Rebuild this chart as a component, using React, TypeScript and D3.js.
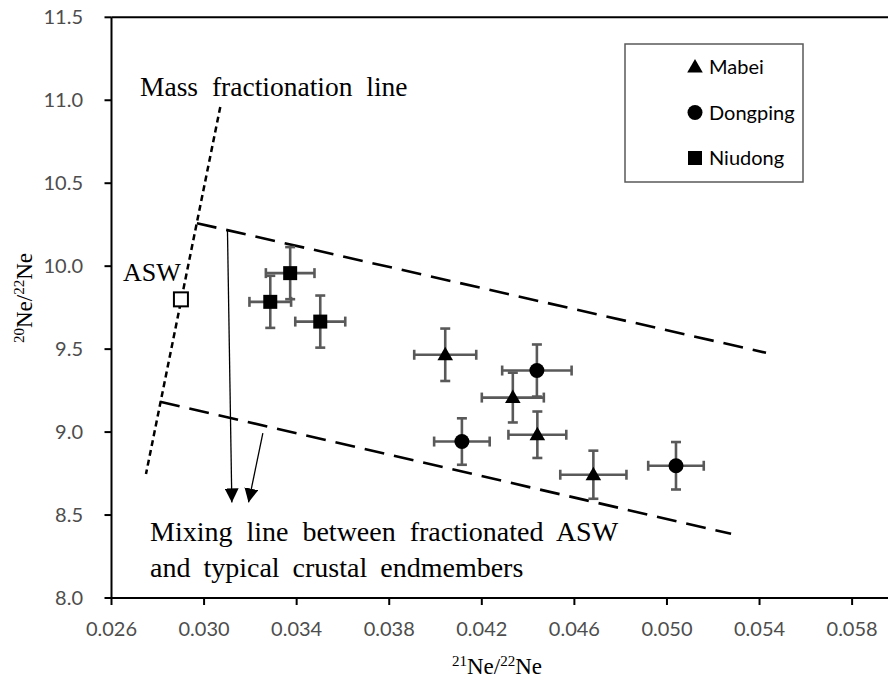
import React from 'react';
import * as d3 from 'd3';

// chart values
const xTicks = [0.026, 0.030, 0.034, 0.038, 0.042, 0.046, 0.050, 0.054, 0.058];
const yTicks = [8.0, 8.5, 9.0, 9.5, 10.0, 10.5, 11.0, 11.5];

const mabeiX = [0.04042, 0.04334, 0.0444, 0.04682];
const mabeiY = [9.466, 9.208, 8.984, 8.743];
const mabeiXErr = [0.00134, 0.00134, 0.00125, 0.00143];
const mabeiYErr = [0.158, 0.15, 0.14, 0.145];

const dongpingX = [0.04438, 0.04114, 0.05039];
const dongpingY = [9.371, 8.943, 8.797];
const dongpingXErr = [0.0015, 0.0012, 0.0012];
const dongpingYErr = [0.157, 0.14, 0.143];

const niudongX = [0.03286, 0.03372, 0.03502];
const niudongY = [9.785, 9.958, 9.666];
const niudongXErr = [0.0009, 0.00105, 0.00108];
const niudongYErr = [0.157, 0.157, 0.157];

const asw = [0.029, 9.8];

// reference lines [x1, y1, x2, y2]
const massFracLine = [0.0307, 10.96, 0.02749, 8.747];
const upperMixLine = [0.02969, 10.259, 0.05428, 9.478];
const lowerMixLine = [0.0281, 9.183, 0.05277, 8.387];
const arrows = [
  [0.03101, 10.219, 0.0312, 8.576],
  [0.03254, 8.994, 0.03192, 8.576],
];

const legendItems = ['Mabei', 'Dongping', 'Niudong'];

const width = 888, height = 684;
const x = d3.scaleLinear().domain([0.026, 0.060]).range([111.5, 898.4]);
const y = d3.scaleLinear().domain([8, 11.5]).range([598, 17.3]);

const tickFont = 'Lato, "Open Sans", sans-serif';
const serif = '"Liberation Serif", "Times New Roman", serif';
const errColor = '#595959';

function marker(shape: string, cx: number, cy: number, key?: any) {
  if (shape === 'triangle') {
    const tri = d3.symbol().type(d3.symbolTriangle).size(105)();
    return <path key={key} d={tri} transform={`translate(${cx},${cy + 1})`} fill="#000" />;
  }
  if (shape === 'circle') return <circle key={key} cx={cx} cy={cy} r={7.5} fill="#000" />;
  return <rect key={key} x={cx - 7} y={cy - 7} width={14} height={14} fill="#000" />;
}

function Series({ xs, ys, xe, ye, shape }: any) {
  return (
    <g>
      {xs.map((v: number, i: number) => {
        const cx = x(v), cy = y(ys[i]);
        const x0 = x(v - xe[i]), x1 = x(v + xe[i]);
        const y0 = y(ys[i] + ye[i]), y1 = y(ys[i] - ye[i]);
        return (
          <g key={i} stroke={errColor} strokeWidth={2.6}>
            <line x1={x0} x2={x1} y1={cy} y2={cy} />
            <line x1={x0} x2={x0} y1={cy - 5} y2={cy + 5} />
            <line x1={x1} x2={x1} y1={cy - 5} y2={cy + 5} />
            <line x1={cx} x2={cx} y1={y0} y2={y1} />
            <line x1={cx - 5} x2={cx + 5} y1={y0} y2={y0} />
            <line x1={cx - 5} x2={cx + 5} y1={y1} y2={y1} />
          </g>
        );
      })}
      {xs.map((v: number, i: number) => marker(shape, x(v), y(ys[i]), 'm' + i))}
    </g>
  );
}

function RefLine({ l, dash, w }: any) {
  return <line x1={x(l[0])} y1={y(l[1])} x2={x(l[2])} y2={y(l[3])}
    stroke="#000" strokeWidth={w} strokeDasharray={dash} />;
}

export default function App() {
  const shapes = ['triangle', 'circle', 'square'];
  return (
    <svg width={width} height={height} style={{ position: 'absolute', left: 0, top: 0, background: '#fff' }}>
      <defs>
        <marker id="ah" viewBox="0 0 10 10" refX="10" refY="5" markerWidth="14" markerHeight="14"
          markerUnits="userSpaceOnUse" orient="auto">
          <path d="M0,0 L10,5 L0,10 z" fill="#000" />
        </marker>
      </defs>

      {/* axes */}
      <line x1={x(0.026)} x2={width} y1={y(8)} y2={y(8)} stroke="#000" strokeWidth={2} />
      <line x1={x(0.026)} x2={width} y1={y(11.5)} y2={y(11.5)} stroke="#000" strokeWidth={2} />
      <line x1={x(0.026)} x2={x(0.026)} y1={y(11.5)} y2={y(8)} stroke="#000" strokeWidth={2} />
      {yTicks.map(t => (
        <g key={t}>
          <line x1={x(0.026) - 7} x2={x(0.026)} y1={y(t)} y2={y(t)} stroke="#000" strokeWidth={2} />
          <text x={83} y={y(t)} dy="0.35em" textAnchor="end" fontFamily={tickFont} fontSize={20} fill="#4d4d4d">
            {d3.format('.1f')(t)}
          </text>
        </g>
      ))}
      {xTicks.map(t => (
        <g key={t}>
          <line x1={x(t)} x2={x(t)} y1={y(8)} y2={y(8) + 7} stroke="#000" strokeWidth={2} />
          <text x={x(t)} y={y(8) + 38} textAnchor="middle" fontFamily={tickFont} fontSize={20} fill="#4d4d4d">
            {d3.format('.3f')(t)}
          </text>
        </g>
      ))}

      {/* axis titles */}
      <text x={452} y={674} fontFamily={serif} fontSize={23} fill="#000">
        <tspan fontSize={15} dy={-8}>21</tspan><tspan dy={8}>Ne/</tspan>
        <tspan fontSize={15} dy={-8}>22</tspan><tspan dy={8}>Ne</tspan>
      </text>
      <text transform="translate(32,298) rotate(-90)" textAnchor="middle" fontFamily={serif} fontSize={23} fill="#000">
        <tspan fontSize={15} dy={-8}>20</tspan><tspan dy={8}>Ne/</tspan>
        <tspan fontSize={15} dy={-8}>22</tspan><tspan dy={8}>Ne</tspan>
      </text>

      {/* reference lines */}
      <RefLine l={massFracLine} dash="6,4" w={2.5} />
      <RefLine l={upperMixLine} dash="20,10" w={2.6} />
      <RefLine l={lowerMixLine} dash="20,10" w={2.6} />
      {arrows.map((a, i) => (
        <line key={i} x1={x(a[0])} y1={y(a[1])} x2={x(a[2])} y2={y(a[3])}
          stroke="#000" strokeWidth={1.3} markerEnd="url(#ah)" />
      ))}

      {/* data */}
      <Series xs={mabeiX} ys={mabeiY} xe={mabeiXErr} ye={mabeiYErr} shape="triangle" />
      <Series xs={dongpingX} ys={dongpingY} xe={dongpingXErr} ye={dongpingYErr} shape="circle" />
      <Series xs={niudongX} ys={niudongY} xe={niudongXErr} ye={niudongYErr} shape="square" />

      {/* ASW */}
      <rect x={x(asw[0]) - 7} y={y(asw[1]) - 7} width={14} height={14} fill="#fff" stroke="#000" strokeWidth={2} />
      <text x={123} y={281} fontFamily={serif} fontSize={26} fill="#000">ASW</text>

      {/* annotations */}
      <text x={140} y={96} fontFamily={serif} fontSize={27.5} wordSpacing={7} fill="#000">Mass fractionation line</text>
      <text x={150} y={541} fontFamily={serif} fontSize={28} wordSpacing={7} fill="#000">Mixing line between fractionated ASW</text>
      <text x={150} y={577} fontFamily={serif} fontSize={28} wordSpacing={6} fill="#000">and typical crustal endmembers</text>

      {/* legend */}
      <rect x={625} y={44} width={178} height={138} fill="#fff" stroke="#595959" strokeWidth={1.5} />
      {legendItems.map((name, i) => {
        const cy = 67 + i * 45.5;
        return (
          <g key={name}>
            {marker(shapes[i], 695, cy)}
            <text x={709} y={cy} dy="0.35em" fontFamily={tickFont} fontSize={20} fill="#000">{name}</text>
          </g>
        );
      })}
    </svg>
  );
}
